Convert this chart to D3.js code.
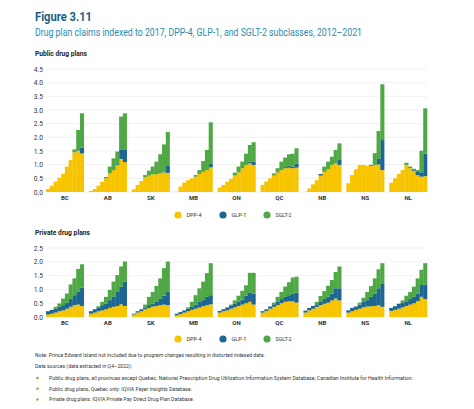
<!DOCTYPE html>
<html><head><meta charset="utf-8">
<script src="https://cdn.jsdelivr.net/npm/d3@7"></script>
<style>
html,body{margin:0;padding:0;background:#fff;}
svg{display:block;}
</style></head>
<body>
<svg id="chart" width="474" height="409"></svg>
<script>
const provinces = ["BC","AB","SK","MB","ON","QC","NB","NS","NL"];
const years = [2012,2013,2014,2015,2016,2017,2018,2019,2020,2021];
const seriesNames = ["DPP-4","GLP-1","SGLT-2"];
const seriesColors = ["#f6c400","#1d6592","#4fa845"];

// Public drug plans (component values per year)
const publicDPP4 = {
  BC:[0.11,0.23,0.38,0.52,0.66,0.93,1.17,1.45,1.50,1.41],
  AB:[0.04,0.11,0.23,0.38,0.50,0.68,0.80,0.99,1.21,1.09],
  SK:[0.10,0.26,0.40,0.54,0.60,0.65,0.65,0.68,0.72,0.70],
  MB:[0.01,0.20,0.34,0.43,0.50,0.56,0.66,0.74,0.80,0.90],
  ON:[0.16,0.26,0.38,0.48,0.60,0.72,0.87,0.99,1.05,0.99],
  QC:[0.26,0.38,0.50,0.60,0.72,0.80,0.87,0.89,0.87,0.89],
  NB:[0.01,0.13,0.28,0.43,0.60,0.74,0.83,0.99,1.05,0.99],
  NS:[0.32,0.62,0.83,0.99,0.99,0.96,0.96,0.99,1.01,0.80],
  NL:[0.34,0.50,0.66,0.80,0.99,0.87,0.77,0.62,0.56,0.58]
};
const publicGLP1 = {
  BC:[0,0,0,0,0,0,0,0,0.02,0.22],
  AB:[0,0,0,0,0,0,0,0.03,0.33,0.45],
  SK:[0,0,0,0,0,0,0,0,0.02,0.25],
  MB:[0,0,0,0,0,0,0,0,0,0.15],
  ON:[0,0,0,0,0,0,0,0,0.06,0.12],
  QC:[0,0,0,0,0.02,0,0.04,0.07,0.06,0.15],
  NB:[0,0,0,0,0.06,0,0,0,0,0.18],
  NS:[0,0,0,0,0,0,0.03,0,0.22,1.10],
  NL:[0,0,0,0,0,0,0.03,0.14,0.16,0.82]
};
const publicSGLT2 = {
  BC:[0,0,0,0,0,0,0,0.11,0.75,1.25],
  AB:[0,0,0,0,0.05,0.25,0.43,0.46,1.22,1.34],
  SK:[0,0,0,0.08,0.18,0.28,0.46,0.70,1.00,1.25],
  MB:[0,0,0,0,0,0.06,0.14,0.39,0.74,1.50],
  ON:[0,0,0,0,0.11,0.21,0.24,0.41,0.61,0.71],
  QC:[0,0,0,0.08,0.13,0.31,0.35,0.42,0.47,0.56],
  NB:[0,0,0,0,0,0.19,0.28,0.30,0.49,0.61],
  NS:[0,0,0,0,0,0,0,0.43,1.00,2.04],
  NL:[0,0,0,0,0.08,0.06,0.05,0.04,0.79,1.66]
};

// Private drug plans
const privateDPP4 = {
  BC:[0.09,0.12,0.16,0.21,0.24,0.30,0.37,0.43,0.45,0.40],
  AB:[0.12,0.16,0.21,0.24,0.28,0.33,0.37,0.40,0.46,0.40],
  SK:[0.09,0.16,0.21,0.28,0.33,0.38,0.40,0.43,0.45,0.43],
  MB:[0.06,0.11,0.16,0.21,0.26,0.30,0.34,0.39,0.43,0.46],
  ON:[0.16,0.21,0.24,0.30,0.35,0.40,0.45,0.50,0.55,0.45],
  QC:[0.16,0.22,0.30,0.37,0.43,0.50,0.55,0.57,0.57,0.52],
  NB:[0.16,0.24,0.30,0.37,0.43,0.48,0.52,0.60,0.67,0.60],
  NS:[0.16,0.21,0.26,0.30,0.35,0.38,0.39,0.40,0.43,0.37],
  NL:[0.22,0.26,0.30,0.35,0.40,0.45,0.50,0.57,0.73,0.65]
};
const privateGLP1 = {
  BC:[0.12,0.14,0.14,0.16,0.19,0.22,0.28,0.36,0.46,0.67],
  AB:[0.09,0.12,0.14,0.19,0.21,0.28,0.36,0.51,0.64,0.88],
  SK:[0.03,0.05,0.07,0.07,0.10,0.11,0.15,0.22,0.32,0.48],
  MB:[0.06,0.07,0.08,0.09,0.11,0.15,0.21,0.22,0.30,0.33],
  ON:[0.06,0.07,0.10,0.10,0.13,0.15,0.18,0.27,0.34,0.40],
  QC:[0.05,0.06,0.08,0.09,0.12,0.15,0.18,0.22,0.28,0.36],
  NB:[0.07,0.09,0.10,0.09,0.14,0.17,0.22,0.25,0.37,0.44],
  NS:[0.08,0.12,0.12,0.15,0.20,0.23,0.34,0.45,0.61,0.85],
  NL:[0.11,0.13,0.18,0.17,0.17,0.20,0.23,0.27,0.43,0.53]
};
const privateSGLT2 = {
  BC:[0,0,0.07,0.12,0.24,0.33,0.53,0.61,0.83,0.84],
  AB:[0,0,0.04,0.12,0.24,0.37,0.55,0.61,0.73,0.73],
  SK:[0,0,0,0.10,0.30,0.42,0.58,0.75,1.00,1.10],
  MB:[0,0,0,0.05,0.18,0.34,0.49,0.67,0.86,1.16],
  ON:[0,0,0.02,0.05,0.12,0.22,0.32,0.38,0.71,0.75],
  QC:[0,0,0,0.06,0.18,0.26,0.37,0.47,0.58,0.58],
  NB:[0,0,0,0.09,0.19,0.29,0.39,0.49,0.59,0.79],
  NS:[0,0,0,0.07,0.15,0.30,0.39,0.55,0.69,0.73],
  NL:[0,0,0,0.08,0.20,0.26,0.37,0.56,0.55,0.77]
};

const publicTicks = [0,0.5,1.0,1.5,2.0,2.5,3.0,3.5,4.0,4.5];
const privateTicks = [0,0.5,1.0,1.5,2.0,2.5];

const titleText = "Figure 3.11";
const subtitleText = "Drug plan claims indexed to 2017, DPP-4, GLP-1, and SGLT-2 subclasses, 2012\u20132021";
const noteLines = [
  "Note: Prince Edward Island not included due to program changes resulting in distorted indexed data.",
  "Data sources (data extracted in Q4\u20132022):"
];
const sourceBullets = [
  "Public drug plans, all provinces except Quebec: National Prescription Drug Utilization Information System Database, Canadian Institute for Health Information.",
  "Public drug plans, Quebec only: IQVIA Payer Insights Database.",
  "Private drug plans: IQVIA Private Pay Direct Drug Plan Database."
];

const svg = d3.select("#chart");
const FONT = "Roboto,'Liberation Sans',sans-serif";

function fitText(sel, w){ sel.attr("textLength", w).attr("lengthAdjust","spacingAndGlyphs"); return sel; }

fitText(svg.append("text").attr("x",35).attr("y",20.5).attr("font-family",FONT)
  .attr("font-weight","bold").attr("font-size",13).attr("fill","#1b5e84").text(titleText), 57);
fitText(svg.append("text").attr("x",35).attr("y",36).attr("font-family",FONT)
  .attr("font-size",10.8).attr("fill","#2a8bb3").text(subtitleText), 327);

function drawPanel(label, labelW, labelY, dpp, glp, sglt, ticks, yTop, yBottom, xLabelY, legendY){
  fitText(svg.append("text").attr("x",35).attr("y",labelY).attr("font-family",FONT)
    .attr("font-weight","bold").attr("font-size",7.2).attr("fill","#222").text(label), labelW);
  const y = d3.scaleLinear().domain([0, ticks[ticks.length-1]]).range([yBottom, yTop]);
  const x0 = d3.scaleBand().domain(provinces).range([46, 427]).paddingInner(0.12).paddingOuter(0);
  const x1 = d3.scaleBand().domain(years).range([0, x0.bandwidth()]).padding(0);
  const g = svg.append("g");
  g.selectAll("line.grid").data(ticks).join("line")
    .attr("x1",46).attr("x2",427)
    .attr("y1",d=>y(d)).attr("y2",d=>y(d))
    .attr("stroke","#e8e8e8").attr("stroke-width",0.6);
  const yAxis = d3.axisLeft(y).tickValues(ticks).tickFormat(d3.format(".1f")).tickSize(0).tickPadding(2);
  const ya = g.append("g").attr("transform","translate(45,0)").call(yAxis);
  ya.select(".domain").remove();
  ya.selectAll("text").attr("font-family",FONT).attr("font-size",6.6).attr("fill","#333");
  const rows = [];
  provinces.forEach(p=>{
    years.forEach((yr,i)=>{
      rows.push({prov:p, year:yr, "DPP-4":dpp[p][i], "GLP-1":glp[p][i], "SGLT-2":sglt[p][i]});
    });
  });
  const stack = d3.stack().keys(seriesNames)(rows);
  stack.forEach((layer,li)=>{
    g.append("g").attr("fill",seriesColors[li])
      .selectAll("rect").data(layer).join("rect")
      .attr("x",d=>x0(d.data.prov)+x1(d.data.year))
      .attr("width",x1.bandwidth()+0.3)
      .attr("y",d=>y(d[1]))
      .attr("height",d=>Math.max(0,y(d[0])-y(d[1])));
  });
  const xa = g.append("g").attr("transform",`translate(0,${xLabelY})`)
    .call(d3.axisBottom(x0).tickSize(0).tickPadding(0));
  xa.select(".domain").remove();
  xa.selectAll("text").attr("font-family",FONT).attr("font-weight","bold").attr("font-size",6).attr("fill","#333");
  const legX = [178, 223, 267];
  const legW = [15, 15, 16];
  const lg = svg.append("g");
  seriesNames.forEach((s,i)=>{
    lg.append("circle").attr("cx",legX[i]).attr("cy",legendY).attr("r",3.6).attr("fill",seriesColors[i]);
    fitText(lg.append("text").attr("x",legX[i]+8.5).attr("y",legendY+2.2).attr("font-family",FONT)
      .attr("font-size",6.2).attr("fill","#333").text(s), legW[i]);
  });
}

drawPanel("Public drug plans", 52, 55.5, publicDPP4, publicGLP1, publicSGLT2, publicTicks, 69, 192, 196, 215);
drawPanel("Private drug plans", 55, 234.5, privateDPP4, privateGLP1, privateSGLT2, privateTicks, 248, 317, 321, 339);

const noteW = [230, 97];
noteLines.forEach((t,i)=>{
  fitText(svg.append("text").attr("x",35).attr("y",357+i*11.3).attr("font-family",FONT)
    .attr("font-size",5.8).attr("fill","#333").text(t), noteW[i]);
});
const bulletW = [364, 143, 145];
sourceBullets.forEach((t,i)=>{
  const yy = 380 + i*10.7;
  svg.append("circle").attr("cx",37.5).attr("cy",yy-1.9).attr("r",1.3).attr("fill","#8cb43c");
  fitText(svg.append("text").attr("x",49).attr("y",yy).attr("font-family",FONT)
    .attr("font-size",5.8).attr("fill","#333").text(t), bulletW[i]);
});
</script>
</body></html>
